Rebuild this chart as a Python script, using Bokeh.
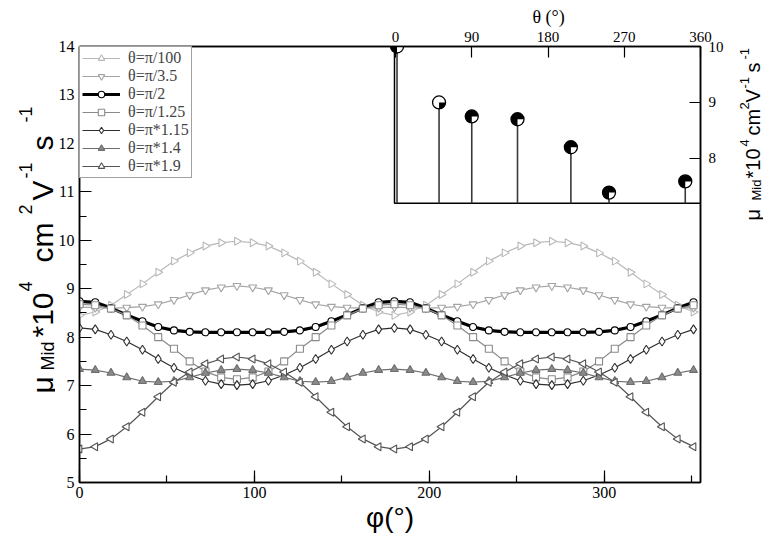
import math
from bokeh.plotting import figure
from bokeh.layouts import row
from bokeh.models import Range1d, LinearAxis, SingleIntervalTicker, FixedTicker, Title
from bokeh.core.properties import value
from bokeh.embed import file_html
from bokeh.resources import INLINE

# ---------------- data ----------------
phi = [0, 9, 18, 27, 36, 45, 54, 63, 72, 81, 90, 99, 108, 117, 126, 135, 144, 153, 162, 171,
       180, 189, 198, 207, 216, 225, 234, 243, 252, 261, 270, 279, 288, 297, 306, 315, 324, 333, 342, 351]

mu_pi_100 = [8.45, 8.52, 8.66, 8.88, 9.10, 9.34, 9.57, 9.74, 9.88, 9.95, 9.98, 9.95, 9.88, 9.74, 9.57, 9.34, 9.10, 8.88, 8.66, 8.52,
             8.45, 8.52, 8.66, 8.88, 9.10, 9.34, 9.57, 9.74, 9.88, 9.95, 9.98, 9.95, 9.88, 9.74, 9.57, 9.34, 9.10, 8.88, 8.66, 8.52]
mu_pi_3_5 = [8.62, 8.61, 8.60, 8.61, 8.63, 8.68, 8.77, 8.87, 8.97, 9.03, 9.06, 9.03, 8.97, 8.87, 8.77, 8.68, 8.63, 8.61, 8.60, 8.61,
             8.62, 8.61, 8.60, 8.61, 8.63, 8.68, 8.77, 8.87, 8.97, 9.03, 9.06, 9.03, 8.97, 8.87, 8.77, 8.68, 8.63, 8.61, 8.60, 8.61]
mu_pi_2 = [8.74, 8.72, 8.60, 8.46, 8.33, 8.21, 8.14, 8.11, 8.10, 8.10, 8.10, 8.10, 8.10, 8.11, 8.14, 8.21, 8.33, 8.46, 8.60, 8.72,
           8.74, 8.72, 8.60, 8.46, 8.33, 8.21, 8.14, 8.11, 8.10, 8.10, 8.10, 8.10, 8.10, 8.11, 8.14, 8.21, 8.33, 8.46, 8.60, 8.72]
mu_pi_1_25 = [8.68, 8.66, 8.59, 8.45, 8.24, 8.00, 7.76, 7.50, 7.29, 7.17, 7.13, 7.17, 7.29, 7.50, 7.76, 8.00, 8.24, 8.45, 8.59, 8.66,
              8.68, 8.66, 8.59, 8.45, 8.24, 8.00, 7.76, 7.50, 7.29, 7.17, 7.13, 7.17, 7.29, 7.50, 7.76, 8.00, 8.24, 8.45, 8.59, 8.66]
mu_pi_x1_15 = [8.19, 8.16, 8.05, 7.91, 7.74, 7.55, 7.37, 7.22, 7.10, 7.03, 7.01, 7.03, 7.10, 7.22, 7.37, 7.55, 7.74, 7.91, 8.05, 8.16,
               8.19, 8.16, 8.05, 7.91, 7.74, 7.55, 7.37, 7.22, 7.10, 7.03, 7.01, 7.03, 7.10, 7.22, 7.37, 7.55, 7.74, 7.91, 8.05, 8.16]
mu_pi_x1_4 = [7.34, 7.32, 7.26, 7.17, 7.09, 7.07, 7.09, 7.17, 7.26, 7.32, 7.34, 7.32, 7.26, 7.17, 7.09, 7.07, 7.09, 7.17, 7.26, 7.32,
              7.34, 7.32, 7.26, 7.17, 7.09, 7.07, 7.09, 7.17, 7.26, 7.32, 7.34, 7.32, 7.26, 7.17, 7.09, 7.07, 7.09, 7.17, 7.26, 7.32]
mu_pi_x1_9 = [5.69, 5.74, 5.90, 6.15, 6.45, 6.77, 7.07, 7.28, 7.45, 7.55, 7.59, 7.55, 7.45, 7.28, 7.07, 6.77, 6.45, 6.15, 5.90, 5.74,
              5.69, 5.74, 5.90, 6.15, 6.45, 6.77, 7.07, 7.28, 7.45, 7.55, 7.59, 7.55, 7.45, 7.28, 7.07, 6.77, 6.45, 6.15, 5.90, 5.74]

series_labels = ["θ=π/100", "θ=π/3.5", "θ=π/2", "θ=π/1.25", "θ=π*1.15", "θ=π*1.4", "θ=π*1.9"]

inset_theta = [1.8, 51.4, 90, 144, 207, 252, 342]
inset_mu = [10.0, 9.0, 8.75, 8.70, 8.20, 7.39, 7.59]

x_ticks_inset = [0, 90, 180, 270, 360]
y_ticks_inset = [8, 9, 10]

# ---------------- styles ----------------
styles = [
    # marker, angle, color, fill, line width, size
    ("triangle", -math.pi / 2, "#b8b8b8", "white", 1.2, 8),
    ("inverted_triangle", 0.0, "#a4a4a4", "white", 1.2, 8),
    ("circle", 0.0, "#000000", "white", 3.2, 7),
    ("square", 0.0, "#8a8a8a", "white", 1.2, 7),
    ("diamond", 0.0, "#2e2e2e", "white", 1.2, 9),
    ("triangle", 0.0, "#6e6e6e", "#8a8a8a", 1.2, 8),
    ("triangle", math.pi / 2, "#555555", "white", 1.2, 8),
]
all_series = [mu_pi_100, mu_pi_3_5, mu_pi_2, mu_pi_1_25, mu_pi_x1_15, mu_pi_x1_4, mu_pi_x1_9]

SERIF = "Liberation Serif"
SANS = "Liberation Sans"

# page geometry
TOTAL_W, TOTAL_H = 763, 539
LEFT_W, RIGHT_W = 55, 37
MAIN_W = TOTAL_W - LEFT_W - RIGHT_W
FRAME_LEFT, FRAME_RIGHT = 77, 702
FRAME_TOP, FRAME_BOTTOM = 46, 482

p = figure(width=MAIN_W, height=TOTAL_H, output_backend="svg", toolbar_location=None,
           x_range=Range1d(0, 355), y_range=Range1d(5, 14),
           min_border_left=FRAME_LEFT - LEFT_W, min_border_right=TOTAL_W - RIGHT_W - FRAME_RIGHT,
           min_border_top=FRAME_TOP, min_border_bottom=TOTAL_H - FRAME_BOTTOM,
           background_fill_color="white", border_fill_color="white")
p.xgrid.visible = False
p.ygrid.visible = False
p.outline_line_color = "black"
p.outline_line_width = 1.5

p.xaxis.ticker = SingleIntervalTicker(interval=100, num_minor_ticks=2)
p.yaxis.ticker = SingleIntervalTicker(interval=1, num_minor_ticks=2)
for ax in (p.xaxis[0], p.yaxis[0]):
    ax.major_tick_in = 12
    ax.major_tick_out = 0
    ax.minor_tick_in = 7
    ax.minor_tick_out = 0
    ax.major_tick_line_color = "black"
    ax.minor_tick_line_color = "black"
    ax.major_tick_line_width = 1.2
    ax.minor_tick_line_width = 1.2
    ax.axis_line_color = "black"
    ax.axis_line_width = 1.5
    ax.major_label_text_font = SERIF
    ax.major_label_text_font_size = "16px"
    ax.major_label_text_color = "black"
p.xaxis[0].major_label_standoff = 4
p.yaxis[0].major_label_standoff = 5
p.xaxis[0].axis_label = "φ(°)"
p.xaxis[0].axis_label_text_font = SANS
p.xaxis[0].axis_label_text_font_size = "28px"
p.xaxis[0].axis_label_text_font_style = "normal"
p.xaxis[0].axis_label_text_color = "black"
p.xaxis[0].axis_label_standoff = 1

# inset coordinate system mapped over the whole frame
INSET_X_RANGE = (-373.0, 360.0)
INSET_Y_RANGE = (2.21, 10.0)
INSET_BOX = (-1.2, 360.0, 7.2, 10.0)   # left, right, bottom, top
p.extra_x_ranges = {"ix": Range1d(*INSET_X_RANGE)}
p.extra_y_ranges = {"iy": Range1d(*INSET_Y_RANGE)}

# main curves
for lab, vals, (mk, ang, col, fill, lw, sz) in zip(series_labels, all_series, styles):
    p.line(phi, vals, line_color=col, line_width=lw, legend_label=lab)
    p.scatter(phi, vals, marker=mk, angle=ang, size=sz, line_color=col,
              fill_color=fill, line_width=1.1, legend_label=lab)

# inset box
p.quad(left=[INSET_BOX[0]], right=[INSET_BOX[1]], bottom=[INSET_BOX[2]], top=[INSET_BOX[3]],
       fill_color="white", line_color="black", line_width=1.5,
       x_range_name="ix", y_range_name="iy")

# inset stems and half-filled markers
p.segment(x0=inset_theta, y0=[INSET_BOX[2]] * len(inset_theta), x1=inset_theta, y1=inset_mu,
          line_color="#3a3a3a", line_width=1.6, x_range_name="ix", y_range_name="iy")
wedge_start = [0, 1.5 * math.pi, 0, 0, 0, 0, 0]
wedge_end = [1.5 * math.pi, 2 * math.pi, 1.5 * math.pi, 1.5 * math.pi, 1.5 * math.pi, 1.5 * math.pi, 1.5 * math.pi]
p.scatter(inset_theta, inset_mu, marker="circle", size=13, fill_color="white", line_color=None,
          x_range_name="ix", y_range_name="iy")
p.wedge(x=inset_theta, y=inset_mu, radius=6.5, radius_units="screen",
        start_angle=wedge_start, end_angle=wedge_end, fill_color="black", line_color=None,
        x_range_name="ix", y_range_name="iy")
p.scatter(inset_theta, inset_mu, marker="circle", size=13, fill_color=None, line_color="black",
          line_width=1.3, x_range_name="ix", y_range_name="iy")

# inset axes (top and right)
top_ax = LinearAxis(x_range_name="ix", ticker=FixedTicker(ticks=x_ticks_inset, minor_ticks=[]))
right_ax = LinearAxis(y_range_name="iy", ticker=FixedTicker(ticks=y_ticks_inset, minor_ticks=[]))
for ax in (top_ax, right_ax):
    ax.major_tick_in = 11
    ax.major_tick_out = 0
    ax.minor_tick_in = 0
    ax.minor_tick_out = 0
    ax.major_tick_line_color = "black"
    ax.major_tick_line_width = 1.2
    ax.axis_line_color = "black"
    ax.axis_line_width = 1.5
    ax.major_label_text_font = SERIF
    ax.major_label_text_font_size = "15px"
    ax.major_label_text_color = "black"
    ax.major_label_standoff = 5
right_ax.major_label_standoff = 8
p.add_layout(top_ax, "above")
p.add_layout(right_ax, "right")

# inset axis title above the inset
p.add_layout(Title(text="θ (°)", text_font=SERIF, text_font_size="18px", text_font_style="normal",
                   text_color="black", align="left", offset=453, standoff=3), "above")

# legend
lg = p.legend[0]
lg.location = "top_left"
lg.margin = 0
lg.padding = 2
lg.spacing = 0
lg.border_line_color = "#444444"
lg.border_line_width = 1.2
lg.background_fill_color = "white"
lg.background_fill_alpha = 1.0
lg.label_text_font = SERIF
lg.label_text_font_size = "16px"
lg.label_height = 16
lg.glyph_height = 16
lg.glyph_width = 38
lg.label_standoff = 8


# ---------------- side strips holding the y-axis titles ----------------
# In a row, Bokeh aligns the strips' frames with the main frame (page y FRAME_TOP..FRAME_BOTTOM),
# so the strip y range is expressed as (page height - page y) over that band.
def strip(w):
    s = figure(width=w, height=TOTAL_H, output_backend="svg", toolbar_location=None, title=None,
               x_range=Range1d(0, w), y_range=Range1d(TOTAL_H - FRAME_BOTTOM, TOTAL_H - FRAME_TOP),
               x_axis_location=None, y_axis_location=None,
               min_border_left=0, min_border_right=0,
               min_border_top=FRAME_TOP, min_border_bottom=TOTAL_H - FRAME_BOTTOM,
               background_fill_color="white", border_fill_color="white")
    s.xgrid.visible = False
    s.ygrid.visible = False
    s.outline_line_color = None
    return s


def put(s, x0, pieces, font, angle=0.0, align="left"):
    # pieces: (text, page_x of baseline, page_y where the upward-running text starts, size)
    for t, px, py, sz in pieces:
        s.text(x=[px - x0], y=[TOTAL_H - py], text=[t], angle=angle,
               text_font=value(font), text_font_size=value(f"{sz}px"), text_color="black",
               text_align=align, text_baseline="alphabetic")


left_s = strip(LEFT_W)
ylab_pieces = [("μ", 42, 393, 30), ("Mid", 47, 370, 18), ("*10", 42, 337, 30), ("4", 25, 291, 18),
               ("cm", 42, 262, 30), ("2", 25, 214, 18), ("V", 42, 200, 30), ("-1", 25, 178, 18),
               ("s", 42, 150, 30), ("-1", 25, 122, 18)]
put(left_s, 0, ylab_pieces, SANS, angle=math.pi / 2)

right_s = strip(RIGHT_W)
ilab_pieces = [("μ", 752, 220, 20), ("Mid", 756, 200, 13), ("*10", 752, 178, 20), ("4", 744, 146, 13),
               ("cm", 752, 135, 20), ("2", 744, 109, 13), ("V", 752, 102, 20), ("-1", 744, 88, 13),
               ("s", 752, 72, 20), ("-1", 744, 59, 13)]
put(right_s, TOTAL_W - RIGHT_W, ilab_pieces, SANS, angle=math.pi / 2)

layout = row(left_s, p, right_s, spacing=0)

open("out.html", "w").write(file_html(layout, INLINE))
